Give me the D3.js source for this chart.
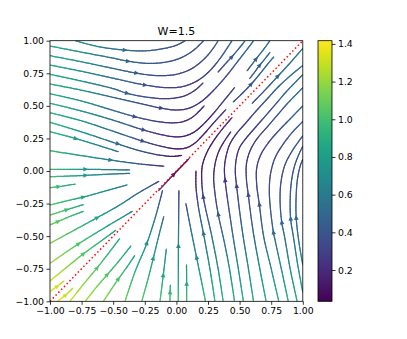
<!DOCTYPE html>
<html>
<head>
<meta charset="utf-8">
<script src="https://cdn.jsdelivr.net/npm/d3@7"></script>
<style>
  body { margin: 0; background: #fff; }
  svg text { font-family: "DejaVu Sans", sans-serif; fill: #000; }
</style>
</head>
<body>
<svg id="chart" width="407" height="339"></svg>
<script>
const title = 'W=1.5'
const xTicks = [-1, -0.75, -0.5, -0.25, 0, 0.25, 0.5, 0.75, 1]
const yTicks = [-1, -0.75, -0.5, -0.25, 0, 0.25, 0.5, 0.75, 1]
const cbTicks = [0.2, 0.4, 0.6, 0.8, 1.0, 1.2, 1.4]
const speedMin = 0.034
const speedMax = 1.417

// speed, rows y = 1 .. -1, columns x = -1 .. 1 (step 0.25)
const speedGrid = [
  [0.90, 0.72, 0.55, 0.46, 0.40, 0.43, 0.50, 0.55, 0.60],
  [0.92, 0.74, 0.52, 0.40, 0.32, 0.30, 0.38, 0.47, 0.55],
  [0.95, 0.75, 0.50, 0.36, 0.25, 0.22, 0.30, 0.40, 0.50],
  [0.97, 0.77, 0.55, 0.35, 0.15, 0.12, 0.22, 0.32, 0.43],
  [1.00, 0.80, 0.63, 0.38, 0.03, 0.15, 0.25, 0.32, 0.40],
  [1.06, 0.87, 0.72, 0.50, 0.38, 0.35, 0.36, 0.40, 0.46],
  [1.15, 0.98, 0.88, 0.72, 0.63, 0.55, 0.50, 0.52, 0.55],
  [1.27, 1.12, 0.98, 0.87, 0.80, 0.75, 0.72, 0.72, 0.75],
  [1.41, 1.27, 1.15, 1.06, 1.00, 0.97, 0.95, 0.92, 0.90]
]

// streamlines, points in flow order
const upperLeftLines = [
  [[-0.80, 1.0], [-0.62, 0.955], [-0.41, 0.928], [-0.25, 0.922], [-0.10, 0.94], [0.0, 0.965], [0.07, 1.0]],
  [[-1, 0.959], [-0.75, 0.912], [-0.5, 0.866], [-0.38, 0.842], [-0.22, 0.826], [-0.08, 0.836], [0.04, 0.87], [0.14, 0.93], [0.2, 0.985], [0.215, 1.0]],
  [[-1, 0.885], [-0.75, 0.838], [-0.5, 0.787], [-0.31, 0.75], [-0.15, 0.732], [0.0, 0.742], [0.12, 0.785], [0.22, 0.86], [0.29, 0.94], [0.33, 1.0]],
  [[-1, 0.813], [-0.75, 0.765], [-0.5, 0.712], [-0.25, 0.66], [-0.08, 0.64], [0.05, 0.648], [0.17, 0.695], [0.27, 0.775], [0.35, 0.87], [0.42, 0.97], [0.44, 1.0]],
  [[-1, 0.742], [-0.75, 0.69], [-0.5, 0.632], [-0.39, 0.596], [-0.22, 0.565], [-0.08, 0.555], [0.05, 0.572], [0.14, 0.615], [0.21, 0.675]],
  [[-1, 0.668], [-0.75, 0.62], [-0.5, 0.565], [-0.25, 0.51], [-0.116, 0.481], [0.0, 0.468], [0.1, 0.482], [0.2, 0.535], [0.3, 0.625], [0.4, 0.735], [0.5, 0.86], [0.58, 0.96], [0.61, 1.0]],
  [[-1, 0.593], [-0.75, 0.537], [-0.5, 0.465], [-0.33, 0.417], [-0.18, 0.385], [-0.05, 0.37], [0.05, 0.378], [0.13, 0.415], [0.22, 0.5]],
  [[-1, 0.52], [-0.75, 0.46], [-0.5, 0.39], [-0.26, 0.315], [-0.1, 0.275], [0.0, 0.262], [0.08, 0.272], [0.15, 0.305], [0.22, 0.365], [0.3, 0.45], [0.38, 0.545], [0.46, 0.64]],
  [[-1, 0.447], [-0.75, 0.385], [-0.5, 0.305], [-0.27, 0.23], [-0.12, 0.19], [0.0, 0.17], [0.08, 0.178], [0.14, 0.21], [0.2, 0.265], [0.3, 0.375], [0.39, 0.47]],
  [[-1, 0.374], [-0.75, 0.3], [-0.47, 0.21], [-0.3, 0.158], [-0.15, 0.125], [-0.03, 0.112], [0.04, 0.12]],
  [[-1, 0.302], [-0.8, 0.25], [-0.62, 0.197], [-0.46, 0.148]],
  [[-1, 0.156], [-0.75, 0.118], [-0.52, 0.084], [-0.3, 0.055], [-0.1, 0.037]],
  [[-1, 0.013], [-0.72, 0.013], [-0.5, 0.01], [-0.37, 0.008]],
  [[-1, -0.044], [-0.75, -0.035], [-0.55, -0.025], [-0.37, -0.018]],
  [[-1, -0.128], [-0.93, -0.12], [-0.8, -0.1]]
]

const lowerLeftLines = [
  [[-1, -0.261], [-0.85, -0.225], [-0.736, -0.2], [-0.55, -0.15], [-0.39, -0.107]],
  [[-1, -0.338], [-0.87, -0.298], [-0.736, -0.258]],
  [[-1, -0.414], [-0.93, -0.385], [-0.82, -0.34], [-0.736, -0.31]],
  [[-1, -0.555], [-0.8, -0.45], [-0.63, -0.36], [-0.45, -0.262], [-0.3, -0.168], [-0.14, -0.08]],
  [[-1, -0.708], [-0.776, -0.56], [-0.55, -0.425], [-0.35, -0.31]],
  [[-1, -0.844], [-0.87, -0.74], [-0.736, -0.636], [-0.6, -0.54], [-0.48, -0.455]],
  [[-1, -0.925], [-0.947, -0.888], [-0.89, -0.845]]
]

const belowDiagLines = [
  [[-0.94, -1], [-0.88, -0.955], [-0.82, -0.9]],
  [[-0.842, -1], [-0.74, -0.875], [-0.63, -0.747], [-0.54, -0.635], [-0.45, -0.52]],
  [[-0.72, -1], [-0.64, -0.9], [-0.551, -0.8], [-0.45, -0.685], [-0.36, -0.575]],
  [[-0.578, -1], [-0.52, -0.915], [-0.46, -0.83], [-0.39, -0.735], [-0.33, -0.65]],
  [[-0.406, -1], [-0.33, -0.78], [-0.235, -0.558], [-0.165, -0.35], [-0.11, -0.15]],
  [[-0.274, -1], [-0.225, -0.83], [-0.183, -0.67], [-0.14, -0.5], [-0.1, -0.35]],
  [[-0.13, -1], [-0.104, -0.8], [-0.08, -0.6]],
  [[-0.051, -1], [-0.05, -0.937], [-0.048, -0.875]]
]

const lowerRightLines = [
  [[0.015, -1], [0.016, -0.58], [0.02, -0.15]],
  [[0.081, -1], [0.081, -0.862], [0.08, -0.72]],
  [[0.23, -1], [0.195, -0.83], [0.16, -0.665], [0.115, -0.45], [0.075, -0.25]],
  [[0.305, -1], [0.265, -0.75], [0.213, -0.474], [0.175, -0.28], [0.155, -0.12], [0.155, 0.0]],
  [[0.37, -1], [0.33, -0.75], [0.28, -0.5], [0.213, -0.2], [0.2, -0.06], [0.205, 0.04], [0.24, 0.14], [0.3, 0.24], [0.37, 0.33], [0.44, 0.41]],
  [[0.46, -1], [0.42, -0.75], [0.38, -0.55], [0.331, -0.332], [0.305, -0.17], [0.295, -0.05], [0.305, 0.05], [0.335, 0.15], [0.38, 0.23], [0.43, 0.3]],
  [[0.53, -1], [0.49, -0.75], [0.44, -0.45], [0.385, -0.069], [0.38, 0.02], [0.39, 0.1], [0.42, 0.2], [0.47, 0.28], [0.55, 0.37], [0.63, 0.46], [0.72, 0.555], [0.8, 0.64], [0.9, 0.73], [1.0, 0.81]],
  [[0.61, -1], [0.57, -0.75], [0.52, -0.45], [0.477, -0.12], [0.466, 0.0], [0.475, 0.1], [0.5, 0.18], [0.55, 0.25], [0.63, 0.34], [0.72, 0.44], [0.8, 0.53], [0.88, 0.62], [0.95, 0.69], [1.0, 0.74]],
  [[0.71, -1], [0.66, -0.75], [0.605, -0.45], [0.569, -0.184], [0.553, -0.05], [0.555, 0.06], [0.585, 0.16], [0.64, 0.25], [0.72, 0.34], [0.8, 0.43], [0.88, 0.52], [0.95, 0.59], [1.0, 0.64]],
  [[0.81, -1], [0.75, -0.75], [0.69, -0.5], [0.656, -0.256], [0.635, -0.1], [0.635, 0.02], [0.665, 0.12], [0.73, 0.22], [0.81, 0.31], [0.9, 0.4], [1.0, 0.5]],
  [[0.885, -1], [0.83, -0.75], [0.785, -0.55], [0.767, -0.466], [0.745, -0.3], [0.735, -0.15], [0.745, -0.02], [0.78, 0.1], [0.84, 0.2], [0.92, 0.3], [1.0, 0.38]],
  [[0.955, -1], [0.9, -0.75], [0.855, -0.5], [0.833, -0.39], [0.82, -0.22], [0.828, -0.08], [0.86, 0.05], [0.92, 0.16], [1.0, 0.27]],
  [[1.0, -0.93], [0.96, -0.72], [0.925, -0.5], [0.904, -0.368], [0.9, -0.22], [0.91, -0.08], [0.935, 0.04], [0.97, 0.13], [1.0, 0.19]],
  [[1.0, -0.72], [0.97, -0.55], [0.948, -0.36], [0.947, -0.2], [0.958, -0.06], [0.98, 0.04], [1.0, 0.09]]
]

const upperRightLines = [
  [[0.33, 0.76], [0.385, 0.82], [0.437, 0.875], [0.49, 0.935], [0.54, 0.995]],
  [[0.56, 0.77], [0.63, 0.859], [0.695, 0.94], [0.74, 1.0]],
  [[0.58, 0.71], [0.62, 0.76], [0.656, 0.808], [0.7, 0.86], [0.74, 0.91]],
  [[0.45, 0.53], [0.52, 0.595], [0.59, 0.665], [0.66, 0.745], [0.73, 0.83], [0.77, 0.875]],
  [[0.6, 0.52], [0.7, 0.62], [0.806, 0.731], [0.9, 0.83], [0.99, 0.93], [1.0, 0.94]],
  [[-0.14, -0.15], [-0.02, -0.025], [0.1, 0.095]]
]

// arrow heads as seen in the picture
const arrowPoints = [
  [-0.407, 0.929], [-0.38, 0.84], [-0.314, 0.75], [-0.248, 0.66], [-0.388, 0.596],
  [-0.116, 0.481], [-0.328, 0.417], [-0.262, 0.315], [-0.267, 0.23], [-0.8, 0.25],
  [-0.468, 0.21], [-0.52, 0.084], [-0.72, 0.013], [-0.72, -0.035], [-0.934, -0.12],
  [-0.736, -0.2], [-0.868, -0.3], [-0.934, -0.39], [-0.63, -0.36], [-0.776, -0.558],
  [-0.736, -0.636], [-0.947, -0.888],
  [-0.88, -0.955], [-0.63, -0.747], [-0.551, -0.8], [-0.46, -0.83], [-0.235, -0.558],
  [-0.183, -0.67], [-0.104, -0.8], [-0.05, -0.937],
  [0.015, -0.58], [0.081, -0.862], [0.16, -0.665], [0.213, -0.474], [0.213, -0.2],
  [0.331, -0.332], [0.385, -0.069], [0.477, -0.12], [0.569, -0.184], [0.656, -0.256],
  [0.767, -0.466], [0.833, -0.39], [0.904, -0.368], [0.946, -0.358],
  [0.437, 0.875], [0.63, 0.859], [0.656, 0.808], [0.59, 0.665], [0.806, 0.731],
  [-0.02, -0.025]
]

const svg = d3.select('#chart')
const plotLeft = 50
const plotRight = 302.8
const plotTop = 40.7
const plotBottom = 301.3

const x = d3.scaleLinear().domain([-1, 1]).range([plotLeft, plotRight])
const y = d3.scaleLinear().domain([-1, 1]).range([plotBottom, plotTop])
const color = d3.scaleSequential(d3.interpolateViridis).domain([speedMin, speedMax])

const gridX = d3.scaleLinear().domain([-1, 1]).range([0, 8]).clamp(true)
const gridY = d3.scaleLinear().domain([1, -1]).range([0, 8]).clamp(true)
const speedAt = (px, py) => {
  const fx = gridX(px)
  const fy = gridY(py)
  const i = Math.min(7, Math.floor(fx))
  const j = Math.min(7, Math.floor(fy))
  const tx = fx - i
  const ty = fy - j
  const a = speedGrid[j][i] * (1 - tx) + speedGrid[j][i + 1] * tx
  const b = speedGrid[j + 1][i] * (1 - tx) + speedGrid[j + 1][i + 1] * tx
  return a * (1 - ty) + b * ty
}

const defs = svg.append('defs')
defs.append('clipPath').attr('id', 'plotclip')
  .append('rect')
  .attr('x', plotLeft).attr('y', plotTop)
  .attr('width', plotRight - plotLeft).attr('height', plotBottom - plotTop)

const plot = svg.append('g').attr('clip-path', 'url(#plotclip)')

const lineGen = d3.line()
  .x(d => x(d[0]))
  .y(d => y(d[1]))
  .curve(d3.curveCatmullRom.alpha(0.5))

const allLines = [].concat(upperLeftLines, lowerLeftLines, belowDiagLines, lowerRightLines, upperRightLines)
const sampled = []

allLines.forEach(pts => {
  const tmp = plot.append('path').attr('d', lineGen(pts)).attr('fill', 'none')
  const node = tmp.node()
  const len = node.getTotalLength()
  const n = Math.max(2, Math.ceil(len / 1.5))
  const s = d3.range(n + 1).map(i => node.getPointAtLength(len * i / n))
  tmp.remove()
  sampled.push(s)
  const g = plot.append('g')
  for (let i = 0; i < n; i++) {
    const a = s[i]
    const b = s[i + 1]
    const sp = speedAt(x.invert((a.x + b.x) / 2), y.invert((a.y + b.y) / 2))
    g.append('line')
      .attr('x1', a.x).attr('y1', a.y)
      .attr('x2', b.x).attr('y2', b.y)
      .attr('stroke', color(sp))
      .attr('stroke-width', 1.25)
      .attr('stroke-linecap', 'round')
  }
})

// arrows: placed on the nearest streamline, pointing along the flow
const arrowLen = 5
const arrowHalf = 2.3
arrowPoints.forEach(p => {
  const px = x(p[0])
  const py = y(p[1])
  let best = null
  let bestD = Infinity
  sampled.forEach(s => {
    s.forEach((q, i) => {
      const d = (q.x - px) ** 2 + (q.y - py) ** 2
      if (d < bestD) { bestD = d; best = { s, i } }
    })
  })
  const s = best.s
  const i = Math.max(1, Math.min(s.length - 2, best.i))
  const c = s[best.i]
  const dx = s[i + 1].x - s[i - 1].x
  const dy = s[i + 1].y - s[i - 1].y
  const m = Math.hypot(dx, dy) || 1
  const ux = dx / m
  const uy = dy / m
  const tip = [c.x + ux * arrowLen * 0.6, c.y + uy * arrowLen * 0.6]
  const base = [c.x - ux * arrowLen * 0.4, c.y - uy * arrowLen * 0.4]
  const pts = [
    tip,
    [base[0] - uy * arrowHalf, base[1] + ux * arrowHalf],
    [base[0] + uy * arrowHalf, base[1] - ux * arrowHalf]
  ]
  plot.append('polygon')
    .attr('points', pts.map(d => d.join(',')).join(' '))
    .attr('fill', color(speedAt(x.invert(c.x), y.invert(c.y))))
})

// red dotted diagonal
plot.append('line')
  .attr('x1', x(-1)).attr('y1', y(-1))
  .attr('x2', x(1)).attr('y2', y(1))
  .attr('stroke', 'red')
  .attr('stroke-width', 1.5)
  .attr('stroke-dasharray', '1.5,2.5')

// axes
const fmt = d3.format('.2f')
const xAxis = svg.append('g')
  .attr('transform', `translate(0,${plotBottom})`)
  .call(d3.axisBottom(x).tickValues(xTicks).tickFormat(fmt).tickSize(3.5).tickSizeOuter(0).tickPadding(2.5))
const yAxis = svg.append('g')
  .attr('transform', `translate(${plotLeft},0)`)
  .call(d3.axisLeft(y).tickValues(yTicks).tickFormat(fmt).tickSize(3.5).tickSizeOuter(0).tickPadding(2.5))

;[xAxis, yAxis].forEach(a => {
  a.select('.domain').remove()
  a.selectAll('line').attr('stroke', '#000').attr('stroke-width', 0.8)
  a.selectAll('text').style('font-size', '9.3px').style('font-family', '"DejaVu Sans", sans-serif')
})

svg.append('rect')
  .attr('x', plotLeft).attr('y', plotTop)
  .attr('width', plotRight - plotLeft).attr('height', plotBottom - plotTop)
  .attr('fill', 'none').attr('stroke', '#000').attr('stroke-width', 0.8)

svg.append('text')
  .attr('x', (plotLeft + plotRight) / 2)
  .attr('y', 35)
  .attr('text-anchor', 'middle')
  .style('font-size', '11px')
  .text(title)

// colorbar
const cbLeft = 318
const cbWidth = 14
const grad = defs.append('linearGradient')
  .attr('id', 'cbgrad')
  .attr('x1', 0).attr('y1', 1).attr('x2', 0).attr('y2', 0)
d3.range(0, 1.0001, 0.05).forEach(t => {
  grad.append('stop')
    .attr('offset', t)
    .attr('stop-color', d3.interpolateViridis(t))
})
svg.append('rect')
  .attr('x', cbLeft).attr('y', plotTop)
  .attr('width', cbWidth).attr('height', plotBottom - plotTop)
  .attr('fill', 'url(#cbgrad)')
  .attr('stroke', '#000').attr('stroke-width', 0.8)

const cbScale = d3.scaleLinear().domain([speedMin, speedMax]).range([plotBottom, plotTop])
const cbAxis = svg.append('g')
  .attr('transform', `translate(${cbLeft + cbWidth},0)`)
  .call(d3.axisRight(cbScale).tickValues(cbTicks).tickFormat(d3.format('.1f')).tickSize(3.5).tickSizeOuter(0).tickPadding(2.5))
cbAxis.select('.domain').remove()
cbAxis.selectAll('line').attr('stroke', '#000').attr('stroke-width', 0.8)
cbAxis.selectAll('text').style('font-size', '9.3px').style('font-family', '"DejaVu Sans", sans-serif')
</script>
</body>
</html>
